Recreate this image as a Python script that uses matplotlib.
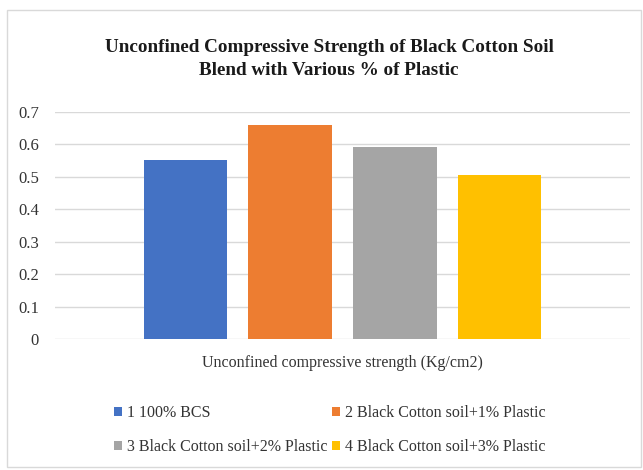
import matplotlib
matplotlib.use("Agg")
import matplotlib.pyplot as plt
from matplotlib.patches import Rectangle

series = ["1 100% BCS", "2 Black Cotton soil+1% Plastic",
          "3 Black Cotton soil+2% Plastic", "4 Black Cotton soil+3% Plastic"]
values = [0.55, 0.66, 0.59, 0.505]
colors = ["#4472C4", "#ED7D31", "#A5A5A5", "#FFC000"]
yticks = [0, 0.1, 0.2, 0.3, 0.4, 0.5, 0.6, 0.7]
ytick_labels = ["0", "0.1", "0.2", "0.3", "0.4", "0.5", "0.6", "0.7"]

plt.rcParams["font.family"] = ["Liberation Serif", "DejaVu Serif"]

W, H = 643, 470
fig = plt.figure(figsize=(W / 100, H / 100), dpi=100)
fig.patch.set_facecolor("white")

# chart frame
fig.add_artist(Rectangle((7 / W, 3 / H), 634 / W, 457 / H, transform=fig.transFigure,
                         fill=False, edgecolor="#d9d9d9", linewidth=1.0))

ax = fig.add_axes([55 / W, 1 - 339.3 / H, 575 / W, (339.3 - 111.7) / H])

spacing = 0.182
width = 0.145
bars = []
for i, (lab, v, c) in enumerate(zip(series, values, colors)):
    bars.append(ax.bar(0.5 + (i - 1.5) * spacing, v, width=width, color=c,
                       label=lab, zorder=3))

ax.set_xlim(0, 1)
ax.set_ylim(0, 0.7)
ax.set_yticks(yticks)
ax.set_yticklabels(ytick_labels, fontsize=12, color="#333333")
ax.set_xticks([])
ax.tick_params(axis="y", length=0, pad=11.5)
for s in ax.spines.values():
    s.set_visible(False)
ax.grid(axis="y", color="#d9d9d9", linewidth=1.0, zorder=0)
ax.set_axisbelow(True)

ax.set_xlabel("Unconfined compressive strength (Kg/cm2)", fontsize=11.5,
              color="#333333", labelpad=11)

fig.text(329 / W, 1 - 59 / H,
         "Unconfined Compressive Strength of Black Cotton Soil\nBlend with Various % of Plastic",
         ha="center", va="center", fontsize=13.8, fontweight="bold", color="#1a1a1a",
         linespacing=1.45)

# legend laid out row by row: (1, 2) then (3, 4)
order = [0, 2, 1, 3]
leg = fig.legend([bars[i] for i in order], [series[i] for i in order],
                 loc="center", bbox_to_anchor=(330 / W, 1 - 430 / H), ncol=2,
                 frameon=False, fontsize=11.5, handlelength=0.5, handleheight=0.5,
                 handletextpad=0.3, columnspacing=0.3, labelspacing=1.1)
for t in leg.get_texts():
    t.set_color("#333333")

fig.savefig("out.png", dpi=100, facecolor="white")
